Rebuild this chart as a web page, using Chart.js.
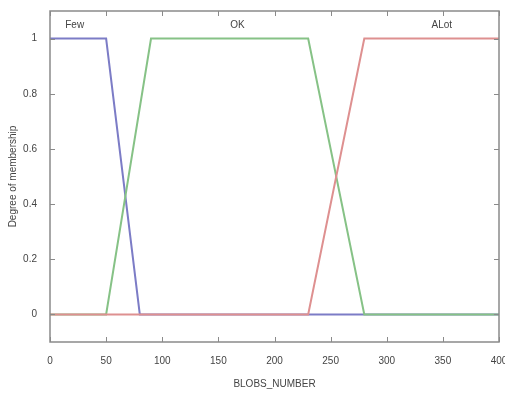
<!DOCTYPE html>
<html>
<head>
<meta charset="utf-8">
<script src="https://cdn.jsdelivr.net/npm/chart.js@4/dist/chart.umd.min.js"></script>
<style>
  html, body { margin: 0; padding: 0; background: #fff; }
  #wrap { width: 505px; height: 394px; }
</style>
</head>
<body>
<div id="wrap"><canvas id="c" width="505" height="394"></canvas></div>
<script>
// membership functions of BLOBS_NUMBER
const fewX = [0, 50, 80, 400]
const fewY = [1, 1, 0, 0]
const okX = [0, 50, 90, 230, 280, 400]
const okY = [0, 0, 1, 1, 0, 0]
const alotX = [0, 230, 280, 400]
const alotY = [0, 0, 1, 1]

const mfNames = ['Few', 'OK', 'ALot']
const mfLabelX = [22, 167, 349]

const xTicks = [0, 50, 100, 150, 200, 250, 300, 350, 400]
const yTicks = [0, 0.2, 0.4, 0.6, 0.8, 1]

const pts = (xs, ys) => xs.map((x, i) => ({ x: x, y: ys[i] }))
const font = { family: 'Liberation Sans, Arial, sans-serif', size: 10 }

// matlab style inward ticks, box and mf names
const matlabBox = {
  id: 'matlabBox',
  afterDraw (chart) {
    const { ctx, chartArea: a, scales } = chart
    ctx.save()
    ctx.strokeStyle = '#8a8a8a'
    ctx.lineWidth = 1.5
    ctx.strokeRect(a.left, a.top, a.right - a.left, a.bottom - a.top)
    ctx.lineWidth = 1
    ctx.beginPath()
    for (const v of xTicks) {
      const px = Math.round(scales.x.getPixelForValue(v)) + 0.5
      ctx.moveTo(px, a.bottom); ctx.lineTo(px, a.bottom - 5)
      ctx.moveTo(px, a.top); ctx.lineTo(px, a.top + 5)
    }
    for (const v of yTicks) {
      const py = Math.round(scales.y.getPixelForValue(v)) + 0.5
      ctx.moveTo(a.left, py); ctx.lineTo(a.left + 5, py)
      ctx.moveTo(a.right, py); ctx.lineTo(a.right - 5, py)
    }
    ctx.stroke()
    ctx.fillStyle = '#444'
    ctx.font = '10px ' + font.family
    ctx.textAlign = 'center'
    ctx.textBaseline = 'middle'
    mfNames.forEach((n, i) => {
      ctx.fillText(n, scales.x.getPixelForValue(mfLabelX[i]), scales.y.getPixelForValue(1.05))
    })
    ctx.restore()
  }
}

new Chart(document.getElementById('c'), {
  type: 'line',
  data: {
    datasets: [
      { label: 'Few', data: pts(fewX, fewY), borderColor: '#7c7cc6', order: 3 },
      { label: 'OK', data: pts(okX, okY), borderColor: '#86c286', order: 2 },
      { label: 'ALot', data: pts(alotX, alotY), borderColor: '#de9090', order: 1 }
    ]
  },
  options: {
    responsive: false,
    animation: false,
    layout: { padding: { top: 11, right: 6, bottom: 4, left: 0 } },
    elements: {
      point: { radius: 0 },
      line: { borderWidth: 2, tension: 0 }
    },
    plugins: { legend: { display: false }, tooltip: { enabled: false } },
    scales: {
      x: {
        type: 'linear',
        min: 0,
        max: 400,
        afterFit (s) { s.height = 48; s.paddingLeft = 0; s.paddingRight = 0 },
        afterBuildTicks (s) { s.ticks = xTicks.map(v => ({ value: v })) },
        grid: { display: false },
        border: { display: false },
        ticks: { padding: 5, color: '#444', font: font, maxRotation: 0 },
        title: { display: true, text: 'BLOBS_NUMBER', color: '#444', font: font, padding: { top: 0, bottom: 0 } }
      },
      y: {
        min: -0.1,
        max: 1.1,
        afterFit (s) { s.width = 50; s.paddingTop = 0; s.paddingBottom = 0 },
        afterBuildTicks (s) { s.ticks = yTicks.map(v => ({ value: v })) },
        grid: { display: false },
        border: { display: false },
        ticks: { padding: 5, color: '#444', font: font, callback: v => String(Math.round(v * 10) / 10) },
        title: { display: true, text: 'Degree of membership', color: '#444', font: font, padding: { top: 7, bottom: 0 } }
      }
    }
  },
  plugins: [matlabBox]
})
</script>
</body>
</html>
